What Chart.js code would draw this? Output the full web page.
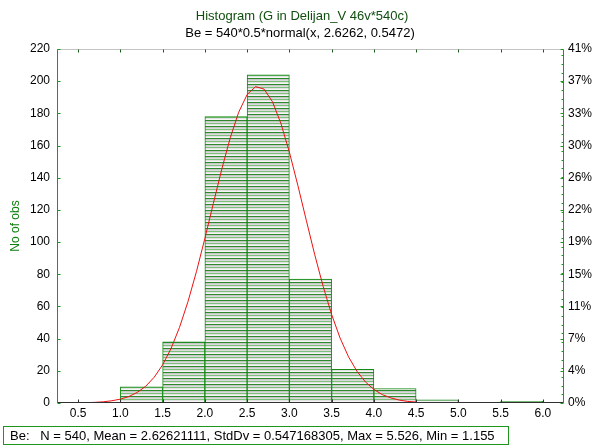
<!DOCTYPE html>
<html lang="en">
<head>
<meta charset="UTF-8">
<title>Histogram (G in Delijan_V 46v*540c)</title>
<script src="https://cdn.jsdelivr.net/npm/chart.js"></script>
<style>
    html, body { margin: 0; padding: 0; background: #fff; }
    .chart-container { position: relative; width: 598px; height: 446px; }
</style>
</head>
<body>
<div class="chart-container">
    <canvas id="histograma" width="598" height="446"></canvas>
</div>
<script>
    // class intervals (lower edge, width 0.5) and observed counts
    const binStarts = [1.0, 1.5, 2.0, 2.5, 3.0, 3.5, 4.0, 4.5, 5.0, 5.5];
    const counts = [10, 38, 178, 204, 77, 21, 9, 2, 0, 1];
    const binWidth = 0.5;
    const totalN = 540;

    const xTicks = [0.5, 1.0, 1.5, 2.0, 2.5, 3.0, 3.5, 4.0, 4.5, 5.0, 5.5, 6.0];
    const yTicks = [0, 20, 40, 60, 80, 100, 120, 140, 160, 180, 200, 220];

    // expected normal curve (Be)
    const curveX = [0.6, 0.7, 0.8, 0.9, 1.0, 1.1, 1.2, 1.3, 1.4, 1.5, 1.6, 1.7, 1.8, 1.9, 2.0,
        2.1, 2.2, 2.3, 2.4, 2.5, 2.6, 2.7, 2.8, 2.9, 3.0, 3.1, 3.2, 3.3, 3.4, 3.5,
        3.6, 3.7, 3.8, 3.9, 4.0, 4.1, 4.2, 4.3, 4.4, 4.5];
    const curveY = [0.2, 0.4, 0.75, 1.4, 2.4, 4.0, 6.6, 10.4, 16.0, 23.7, 33.9, 47.0, 63.0, 81.6, 102.3,
        124.0, 145.3, 164.8, 180.7, 191.7, 196.6, 195.1, 187.2, 173.7, 155.9, 135.3, 113.6, 92.2, 72.4, 55.0,
        40.4, 28.7, 19.7, 13.1, 8.4, 5.2, 3.2, 1.8, 1.0, 0.6];

    const titleLines = ['Histogram (G in Delijan_V 46v*540c)', 'Be = 540*0.5*normal(x, 2.6262, 0.5472)'];
    const summaryText = 'Be:   N = 540, Mean = 2.62621111, StdDv = 0.547168305, Max = 5.526, Min = 1.155';

    const FONT = '"Liberation Sans", Arial, sans-serif';
    const VERDE = '#1e961e';

    // striped fill for the bars
    function rayado() {
        const c = document.createElement('canvas');
        c.width = 1; c.height = 6;
        const g = c.getContext('2d');
        ['#2a8a2a', '#c8c8c8', '#dadada', '#7cc07c', '#e2e2e2', '#f6f6f6'].forEach((col, i) => {
            g.fillStyle = col;
            g.fillRect(0, i, 1, 1);
        });
        return g.createPattern(c, 'repeat');
    }

    const barras = binStarts.map((s, i) => ({ x: s + binWidth / 2, y: counts[i] }));
    const curva = curveX.map((x, i) => ({ x: x, y: curveY[i] }));

    function linea(ctx, x1, y1, x2, y2) {
        ctx.beginPath();
        ctx.moveTo(x1, y1);
        ctx.lineTo(x2, y2);
        ctx.stroke();
    }

    // frame, inward tick marks, titles and the summary box
    const marco = {
        id: 'marco',
        afterDraw(chart) {
            const { ctx, chartArea: a, scales } = chart;
            const L = Math.round(a.left) + 0.5, R = Math.round(a.right) - 0.5;
            const T = Math.round(a.top) + 0.5, B = Math.round(a.bottom) - 0.5;
            ctx.save();
            ctx.lineWidth = 1;

            ctx.strokeStyle = '#c4c4c4';
            linea(ctx, L, T, R, T);
            ctx.strokeStyle = '#303030';
            linea(ctx, L, B, R, B);
            ctx.strokeStyle = VERDE;
            linea(ctx, L, T, L, B + 0.5);
            linea(ctx, R, T, R, B + 0.5);

            // x ticks, bottom and top
            xTicks.forEach(v => {
                const px = Math.round(scales.x.getPixelForValue(v)) + 0.5;
                ctx.strokeStyle = '#303030';
                linea(ctx, px, B, px, B - 3);
                ctx.strokeStyle = '#1a5a1a';
                linea(ctx, px, T, px, T + 3);
            });
            // left ticks
            ctx.strokeStyle = VERDE;
            yTicks.forEach(v => {
                const py = Math.round(scales.y.getPixelForValue(v)) + 0.5;
                linea(ctx, L, py, L + 3, py);
                linea(ctx, R, py, R - 3, py);
            });
            // right minor ticks every 1 %
            for (let p = 1; p <= 40; p++) {
                const py = Math.round(scales.y.getPixelForValue(p * totalN / 100)) + 0.5;
                linea(ctx, R, py, R - 2, py);
            }

            // titles
            ctx.textAlign = 'center';
            ctx.textBaseline = 'middle';
            ctx.font = '13px ' + FONT;
            ctx.fillStyle = '#0f4f0f';
            ctx.fillText(titleLines[0], 302, 16);
            ctx.fillStyle = '#000';
            ctx.fillText(titleLines[1], 300, 33);

            // summary box
            ctx.strokeStyle = VERDE;
            ctx.strokeRect(3.5, 426.5, 505, 18);
            ctx.textAlign = 'left';
            ctx.fillStyle = '#000';
            ctx.fillText(summaryText, 10, 436);
            ctx.restore();
        }
    };

    new Chart(document.getElementById('histograma'), {
        data: {
            datasets: [{
                type: 'line',
                data: curva,
                borderColor: '#ee1111',
                borderWidth: 1,
                pointRadius: 0,
                tension: 0,
                yAxisID: 'y'
            }, {
                type: 'bar',
                data: barras,
                backgroundColor: rayado(),
                borderColor: '#138a13',
                borderWidth: 1,
                borderSkipped: false,
                barPercentage: 1,
                categoryPercentage: 1,
                yAxisID: 'y'
            }]
        },
        options: {
            responsive: false,
            animation: false,
            layout: { padding: { top: 49, left: 0, right: 0, bottom: 0 } },
            plugins: {
                legend: { display: false },
                tooltip: { enabled: false }
            },
            scales: {
                x: {
                    type: 'linear',
                    offset: false,
                    min: 0.25,
                    max: 6.25,
                    afterBuildTicks: s => { s.ticks = xTicks.map(v => ({ value: v })); },
                    afterFit: s => { s.height = 43; },
                    grid: { display: false, drawTicks: false },
                    border: { display: false },
                    ticks: {
                        color: '#000',
                        padding: 3,
                        maxRotation: 0,
                        autoSkip: false,
                        font: { family: FONT, size: 12 },
                        callback: v => v.toFixed(1)
                    }
                },
                y: {
                    position: 'left',
                    min: 0,
                    max: 220,
                    afterBuildTicks: s => { s.ticks = yTicks.map(v => ({ value: v })); },
                    afterFit: s => { s.width = 57; },
                    grid: { display: false, drawTicks: false },
                    border: { display: false },
                    title: {
                        display: true,
                        text: 'No of obs',
                        color: '#108010',
                        font: { family: FONT, size: 12 },
                        padding: { top: 8, bottom: 0 }
                    },
                    ticks: {
                        color: '#000',
                        padding: 7,
                        autoSkip: false,
                        font: { family: FONT, size: 12 }
                    }
                },
                y2: {
                    position: 'right',
                    min: 0,
                    max: 220,
                    afterBuildTicks: s => { s.ticks = yTicks.map(v => ({ value: v })); },
                    afterFit: s => { s.width = 34; },
                    grid: { display: false, drawTicks: false },
                    border: { display: false },
                    ticks: {
                        color: '#000',
                        padding: 4,
                        autoSkip: false,
                        font: { family: FONT, size: 12 },
                        callback: v => Math.round(v / totalN * 100) + '%'
                    }
                }
            }
        },
        plugins: [marco]
    });
</script>
</body>
</html>
